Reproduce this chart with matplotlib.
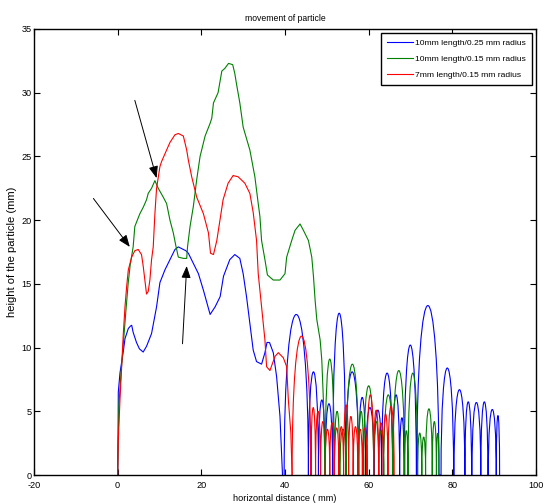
import matplotlib
matplotlib.use("Agg")
import matplotlib.pyplot as plt
from matplotlib.path import Path
from matplotlib.patches import PathPatch

plt.rcParams['font.family'] = ['Liberation Sans', 'DejaVu Sans']
plt.rcParams['axes.unicode_minus'] = False

# ---------------- data ----------------
series_labels = ["10mm length/0.25 mm radius",
                 "10mm length/0.15 mm radius",
                 "7mm length/0.15 mm radius"]
series_colors = ["#0000ff", "#008000", "#ff0000"]

# main (continuous) part of each trajectory
blue_x = [0, 0.1, 0.15, 0.55, 1.35, 1.75, 2.55, 3.1, 3.35, 3.7, 4.5, 5.2, 6.1, 6.9, 8.1, 9.3,
          10.1, 11.3, 12.5, 13.7, 14.5, 15.7, 16.3, 16.9, 18.1, 19.3, 20.5, 22.1, 23.3,
          24.5, 25.3, 26.8, 28.0, 29.2, 30.0, 30.8, 31.6, 32.4, 33.2, 34.4, 35.2, 35.7,
          36.3, 37.2, 38.0, 38.8, 39.4]
blue_y = [0, 3.0, 6.5, 8.0, 9.7, 10.7, 11.5, 11.7, 11.75, 11.2, 10.4, 9.9, 9.65, 10.1, 11.1, 13.2,
          15.1, 16.1, 16.9, 17.7, 17.9, 17.7, 17.6, 17.4, 16.6, 15.8, 14.5, 12.6, 13.2,
          14.0, 15.6, 16.9, 17.3, 17.0, 15.8, 14.0, 11.9, 9.8, 8.9, 8.7, 9.6, 10.4,
          10.4, 9.6, 7.7, 4.6, 0.0]

green_x = [0, 0.1, 0.3, 0.8, 1.4, 2.0, 2.5, 3.0, 3.5, 3.7, 4.1, 5.3, 6.1, 6.9, 7.3, 8.1, 8.9,
           9.7, 10.9, 11.7, 12.5, 13.3, 13.9, 14.5, 15.7, 16.5, 16.7, 17.3, 18.1, 18.9,
           19.7, 20.9, 22.1, 22.5, 22.9, 24.0, 24.9, 25.6, 26.5, 27.5, 28.0, 28.4, 29.2,
           30.0, 31.6, 32.8, 33.6, 34.0, 34.4, 35.2, 35.8, 37.2, 38.8, 40.0, 40.4, 41.6,
           42.4, 43.6, 44.4, 45.6, 46.4, 46.8, 47.2, 47.6, 48.4, 48.8, 49.2, 49.6]
green_y = [0, 2.5, 5.5, 8.0, 10.5, 13.0, 15.0, 16.5, 17.5, 17.9, 19.5, 20.5, 21.0, 21.6, 22.1,
           22.5, 23.1, 22.5, 21.8, 21.3, 20.0, 19.0, 18.0, 17.1, 17.0, 17.0, 17.9, 19.5,
           21.1, 23.2, 25.0, 26.6, 27.6, 28.0, 29.2, 30.0, 31.7, 31.9, 32.3, 32.2, 31.5,
           30.7, 29.2, 27.3, 25.5, 23.4, 21.3, 20.3, 18.4, 16.9, 15.7, 15.3, 15.3, 15.8,
           17.1, 18.4, 19.2, 19.7, 19.2, 18.4, 17.1, 15.6, 13.7, 12.2, 10.6, 9.0, 5.7, 0.0]

red_x = [0, 0.15, 0.55, 0.95, 1.35, 1.75, 2.15, 2.55, 3.35, 4.1, 4.9, 5.7, 6.1, 6.5, 6.9, 7.3,
         7.7, 8.1, 8.5, 8.9, 9.3, 10.1, 10.5, 11.7, 12.5, 13.7, 14.5, 15.7, 16.5, 16.9,
         17.7, 18.9, 20.5, 21.7, 22.2, 22.9, 23.7, 24.5, 25.2, 26.4, 27.6, 28.8, 30.4,
         31.6, 32.4, 33.2, 33.6, 34.4, 35.2, 35.6, 36.4, 37.6, 38.4, 39.6, 40.4, 40.8,
         41.4, 41.7]
red_y = [0, 2.7, 5.9, 8.5, 11.1, 13.2, 14.8, 16.1, 17.1, 17.6, 17.7, 17.3, 16.4, 15.3, 14.2,
         14.4, 15.3, 16.9, 17.9, 20.5, 22.5, 24.2, 24.6, 25.5, 26.1, 26.7, 26.8, 26.6,
         25.5, 24.7, 23.4, 21.8, 20.5, 19.0, 17.4, 17.3, 18.4, 20.1, 21.6, 22.9, 23.5,
         23.4, 22.9, 22.1, 20.6, 18.4, 15.8, 13.2, 10.6, 8.5, 8.2, 9.3, 9.6, 9.2, 8.5,
         5.9, 3.3, 0.0]

# bounces after the main part: (start x, end x, peak height)
blue_bounces = [(39.8, 45.6, 12.6), (45.6, 48.0, 8.1), (48.0, 49.6, 5.9), (49.6, 51.4, 5.6),
                (51.4, 54.5, 12.7), (54.5, 57.6, 8.1), (57.6, 59.3, 6.1), (59.3, 61.3, 5.3),
                (61.3, 63.1, 5.1), (63.1, 65.7, 8.0), (65.7, 67.4, 6.3), (67.4, 68.5, 4.5),
                (68.5, 71.4, 10.2), (71.5, 76.8, 13.3), (77.3, 80.3, 8.4), (80.4, 83.0, 6.7),
                (83.0, 84.6, 5.75), (84.7, 86.8, 5.7), (86.8, 88.5, 5.75), (88.6, 90.5, 5.15),
                (90.5, 91.3, 4.7)]
green_bounces = [(49.6, 51.8, 9.1), (51.8, 53.1, 5.0), (53.1, 54.6, 3.6), (54.6, 57.6, 8.7),
                 (57.6, 58.8, 5.0), (58.8, 61.2, 7.0), (61.2, 62.4, 4.2), (62.4, 63.6, 3.5),
                 (63.6, 65.8, 6.3), (65.8, 68.6, 8.2), (68.6, 69.4, 3.5), (69.4, 71.7, 8.0),
                 (71.7, 72.7, 3.3), (72.7, 73.6, 3.0), (73.6, 75.2, 5.2), (75.2, 76.2, 4.2),
                 (76.2, 76.8, 3.3)]
red_bounces = [(41.7, 46.2, 10.9), (46.2, 47.3, 5.3), (47.3, 48.5, 5.0), (48.5, 49.6, 4.2),
               (49.6, 50.7, 3.6), (50.7, 51.8, 4.1), (51.8, 52.9, 3.7), (52.9, 54.0, 3.8),
               (54.0, 55.2, 5.5), (55.2, 56.3, 4.6), (56.3, 57.4, 3.8), (57.4, 58.5, 3.6),
               (58.5, 59.6, 3.7), (59.6, 61.2, 6.3), (61.2, 62.4, 5.1), (62.4, 63.5, 4.1),
               (63.5, 64.6, 4.8), (64.6, 66.1, 5.4)]

# annotation arrows (data units)
arrow_tail_x = [4.1, -5.8, 15.5]
arrow_tail_y = [29.4, 21.7, 10.3]
arrow_head_x = [9.3, 2.9, 16.5]
arrow_head_y = [23.3, 17.9, 16.4]

x_ticks = [-20, 0, 20, 40, 60, 80, 100]
y_ticks = [0, 5, 10, 15, 20, 25, 30, 35]


def bounce_path(bounces):
    verts, codes = [], []
    for i, (x0, x1, h) in enumerate(bounces):
        if i == 0 or bounces[i - 1][1] != x0:
            verts.append((x0, 0.0))
            codes.append(Path.MOVETO if i == 0 else Path.LINETO)
        verts += [(x0, 4.0 * h / 3.0), (x1, 4.0 * h / 3.0), (x1, 0.0)]
        codes += [Path.CURVE4] * 3
    return Path(verts, codes)


fig = plt.figure(figsize=(5.44, 5.04), dpi=100)
ax = fig.add_axes([0.0625, 0.0575, 0.9228, 0.885])

lw = 0.8
for xs, ys, bnc, col, lab in [(blue_x, blue_y, blue_bounces, series_colors[0], series_labels[0]),
                              (green_x, green_y, green_bounces, series_colors[1], series_labels[1]),
                              (red_x, red_y, red_bounces, series_colors[2], series_labels[2])]:
    ax.plot(xs, ys, color=col, lw=lw, label=lab)
    ax.add_patch(PathPatch(bounce_path(bnc), facecolor='none', edgecolor=col, lw=lw))

for tx, ty, hx, hy in zip(arrow_tail_x, arrow_tail_y, arrow_head_x, arrow_head_y):
    ax.annotate("", xy=(hx, hy), xytext=(tx, ty),
                arrowprops=dict(arrowstyle="-|>,head_length=0.9,head_width=0.35",
                                color="black", lw=0.7, mutation_scale=8,
                                shrinkA=0, shrinkB=0))

ax.set_xlim(-20, 100)
ax.set_ylim(0, 35)
ax.set_xticks(x_ticks)
ax.set_yticks(y_ticks)
ax.tick_params(direction='in', top=True, right=True, length=4, width=0.8,
               labelsize=6.6)
ax.tick_params(axis='x', pad=4.5)
ax.tick_params(axis='y', pad=1.5)
for s in ax.spines.values():
    s.set_linewidth(1.0)

ax.set_title("movement of particle", fontsize=6.2, pad=6)
ax.set_xlabel("horizontal distance ( mm)", fontsize=6.6, labelpad=3)
ax.set_ylabel("height of the particle (mm)", fontsize=8, labelpad=3)

leg = ax.legend(loc='upper right', prop={'size': 6.1}, frameon=True, fancybox=False,
                edgecolor='black', framealpha=1, borderaxespad=0.5,
                handlelength=3.1, handletextpad=0.2, labelspacing=0.95,
                borderpad=0.7)
leg.get_frame().set_linewidth(1.0)

fig.savefig("out.png", dpi=100)
